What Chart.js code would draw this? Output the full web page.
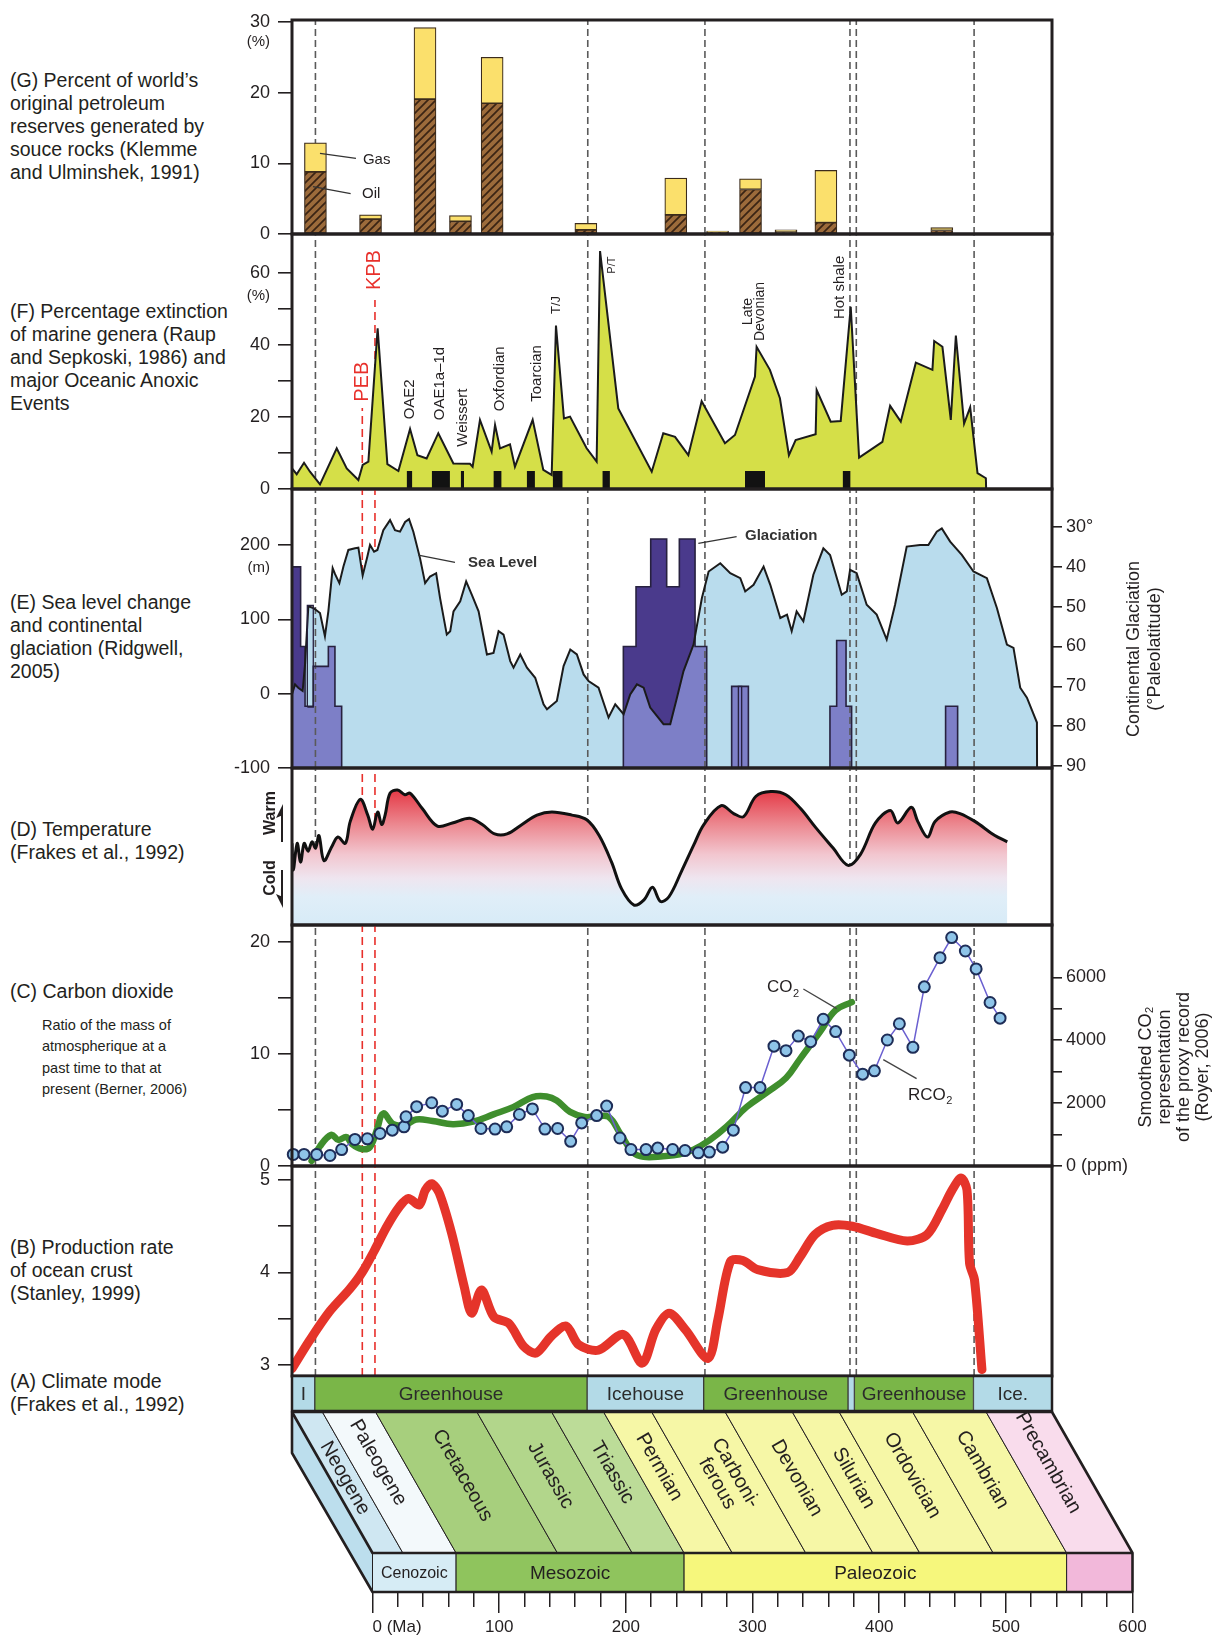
<!DOCTYPE html>
<html>
<head>
<meta charset="utf-8">
<title>Geological record panels</title>
<script src="https://cdn.jsdelivr.net/npm/chart.js@4.4.1/dist/chart.umd.min.js"></script>
<style>
html,body{margin:0;padding:0;background:#fff;}
#wrap{position:relative;width:1215px;height:1640px;overflow:hidden;background:#fff;}
#wrap canvas{position:absolute;left:0;}
.desc{position:absolute;left:10px;font-family:"Liberation Sans",Arial,Helvetica,sans-serif;font-size:19.5px;line-height:23px;color:#231f20;white-space:nowrap;}
.desc.small{left:42px;font-size:14.5px;line-height:21.3px;}
</style>
</head>
<body>
<div id="wrap">
<div class="desc" style="top:69px">(G) Percent of world’s<br>original petroleum<br>reserves generated by<br>souce rocks (Klemme<br>and Ulminshek, 1991)</div>
<div class="desc" style="top:300px">(F) Percentage extinction<br>of marine genera (Raup<br>and Sepkoski, 1986) and<br>major Oceanic Anoxic<br>Events</div>
<div class="desc" style="top:591px">(E) Sea level change<br>and continental<br>glaciation (Ridgwell,<br>2005)</div>
<div class="desc" style="top:818px">(D) Temperature<br>(Frakes et al., 1992)</div>
<div class="desc" style="top:980px">(C) Carbon dioxide</div>
<div class="desc small" style="top:1015px">Ratio of the mass of<br>atmospherique at a<br>past time to that at<br>present (Berner, 2006)</div>
<div class="desc" style="top:1236px">(B) Production rate<br>of ocean crust<br>(Stanley, 1999)</div>
<div class="desc" style="top:1370px">(A) Climate mode<br>(Frakes et al., 1992)</div>
</div>
<script>
// ===================== DATA =====================
// (G) petroleum reserves (% of world total), stacked oil + gas
const petroAge = [18.5, 62, 105, 133, 158, 232, 303, 336, 362, 390, 421.5, 513];
const oilPct   = [8.8, 2.1, 19.1, 1.8, 18.5, 0.6, 2.7, 0.35, 6.3, 0.3, 1.6, 0.5];
const gasPct   = [4.1, 0.6, 10.1, 0.8, 6.5, 0.9, 5.2, 0.05, 1.5, 0.3, 7.4, 0.4];

// (F) extinction of marine genera (%)
const extAge = [0, 3.7, 9.5, 14.2, 22.1, 35.3, 43.2, 52.4, 55.8, 60.3, 67.6, 75.3, 84, 93.2, 99, 106.3, 115.5, 127.4, 140.5, 142.6, 148.4, 157.6, 160.3, 164.2, 172.1, 176, 190, 198.4, 205, 208.4, 214.7, 219.5, 232.6, 240.5, 243.2, 257.6, 284, 293.1, 302.4, 312.9, 323.4, 341.8, 349.7, 365.5, 366.8, 377.3, 385.2, 392.3, 397.6, 413.4, 414.2, 425.3, 433.2, 441.1, 447.7, 466.1, 472.2, 480.6, 492.5, 505.6, 507, 513.5, 520.1, 524.1, 530.6, 535.4, 541.2, 547.8, 548];
const extVal = [5.7, 4.1, 7.3, 4.8, 1.3, 11.3, 5.7, 2.5, 6.7, 7.6, 44.6, 6.9, 5, 16.7, 9.4, 8.5, 15.5, 7.1, 7.0, 6.2, 19.2, 10.4, 17.8, 11.3, 12.4, 6.2, 19.2, 5.3, 3.9, 45.4, 19.6, 20.1, 11.3, 7.6, 66.1, 22.4, 4.8, 15.5, 14.5, 9.4, 24.4, 12.7, 15, 31.2, 39.5, 33.1, 25.2, 9.4, 13.6, 15.2, 27.5, 18.7, 18.9, 50.6, 8.7, 13.1, 23.1, 18.7, 35.1, 33.1, 41.1, 39.5, 19.2, 42.6, 18.2, 22.7, 4.4, 3.0, 0];
// Oceanic anoxic events (black boxes)
const oaeStart = [90.5, 110.3, 133.2, 159, 185.3, 205.8, 245, 357.6, 434.7];
const oaeEnd   = [95, 124.7, 135.8, 165.5, 191.8, 213.7, 251, 373.4, 441];
const oaeHeight = 5;

// (E) sea level (m)
const seaAge = [0, 2.4, 4.9, 8.4, 10.3, 12.9, 16.8, 22.1, 26, 28.7, 32.1, 34, 37.4, 40.6, 44.5, 49.8, 52.4, 55.8, 59.5, 61.6, 64.8, 67.4, 72.1, 77.4, 81.3, 85.3, 89.3, 92.4, 95.8, 101.1, 105.1, 109, 113.8, 116.9, 122.2, 124.9, 127.5, 132.8, 137.5, 142, 147.3, 153.9, 159.1, 163.1, 167, 172.3, 174.9, 180.2, 185.5, 192, 198.6, 201.3, 209.1, 214.4, 219.7, 224.9, 230.2, 234.1, 242, 249.9, 255.2, 261.8, 267, 272.3, 277.6, 282.8, 293.3, 298.6, 303.9, 309.1, 317, 323.6, 328.9, 338.1, 346, 353.9, 357.8, 364.4, 372.3, 377.6, 385.5, 390.8, 394.5, 398.4, 403.7, 411.6, 419.5, 424.8, 434, 438, 440.6, 445.8, 453.7, 461.6, 469.5, 476.1, 485.3, 495.8, 502.4, 509, 513, 519.6, 528.8, 538, 548.6, 556.5, 564.4, 569.6, 574.9, 580.2, 588.1, 588.2];
const seaVal = [-0.9, 12.5, 8, 3.6, 39.3, 117.4, 115.2, 108.5, 77.2, 110.7, 168.8, 160.7, 148.7, 171, 193.3, 195.5, 196.4, 158.9, 184.4, 200, 191, 193.3, 220, 233.5, 220, 218, 231, 234.8, 217.9, 182, 148.7, 157.6, 162, 128.6, 79.5, 84, 110.7, 124.1, 150.9, 133, 110.7, 52.7, 54.9, 84, 79.5, 43.8, 35, 52.7, 35, 21.4, -14.3, -21, -9.8, 37, 59.4, 52.7, 25.9, 17, 8, -32, -14.3, -27.7, -0.9, 12.5, 8, -18.8, -41, -41, -5.4, 30.4, 66, 128.6, 164.3, 175.4, 162, 155.4, 137.5, 146.4, 171, 146.4, 101.8, 106.3, 84, 110.7, 97.3, 160, 195.5, 186.6, 133, 137.5, 166.5, 162, 119.6, 106.3, 72.8, 119.6, 197.8, 200, 200, 217.9, 222.3, 204.5, 186.6, 164.3, 155.4, 115.2, 66, 61.6, 8, -5.4, -38.8, -100];
// continental glaciation: extent in paleolatitude (deg) for age intervals
const glacStart = [0, 6.8, 10.3, 16.8, 28.7, 33.9, 261.6, 271.6, 283.2, 295.8, 305.8, 318.2, 347.1, 424.7, 430.0, 437.4, 516.0];
const glacEnd   = [6.8, 10.3, 16.8, 28.7, 33.9, 39.2, 271.6, 283.2, 295.8, 305.8, 318.2, 327.4, 360.3, 430.0, 437.4, 441.8, 525.5];
const glacLat   = [40, 60, 75, 65, 60, 75, 60, 45, 33, 45, 33, 60, 70, 75, 58.5, 75, 75];
// narrow ephemeral glaciation strips
const stripStart  = [12.1, 352.4];
const stripEnd    = [16.8, 355.0];
const stripTop    = [49.7, 70];
const stripBottom = [75.2, 90.5];

// (D) temperature index (relative, cold 0 -> warm 10)
const tempAge = [0, 1.0, 4.1, 6.8, 9.6, 12.7, 15.8, 18.6, 21.3, 25.2, 31.5, 36.2, 42.1, 46, 53.9, 59.8, 63.7, 67.6, 70.8, 73.5, 77.4, 83.3, 89.2, 93.2, 103, 114.8, 126.6, 140.3, 150.2, 160, 169.8, 181.6, 193.4, 205.2, 220.9, 232.7, 242.5, 252.3, 260.2, 270, 277.9, 284.6, 290.9, 297.6, 307.4, 317.2, 325.1, 338.8, 348.7, 356.5, 366.3, 378.1, 389.9, 401.7, 413.5, 427.2, 439, 448.8, 460.6, 472.4, 478.3, 488.9, 494, 501.8, 507.7, 519.5, 527.4, 539.1, 554.9, 564.7];
const tempVal = [5.2, 3.5, 5.2, 4.0, 5.2, 4.7, 5.3, 4.9, 5.7, 4.1, 5.0, 5.6, 5.2, 6.6, 8.0, 7.0, 6.1, 7.2, 6.4, 7.0, 8.4, 8.6, 8.3, 8.4, 7.4, 6.3, 6.5, 6.8, 6.4, 5.8, 5.8, 6.4, 7.0, 7.2, 7.0, 6.7, 5.7, 4.0, 2.3, 1.27, 1.6, 2.4, 1.5, 1.8, 3.4, 5.1, 6.4, 7.6, 7.1, 6.9, 8.2, 8.5, 8.3, 7.4, 6.2, 4.9, 3.8, 4.5, 6.5, 7.3, 6.5, 7.5, 6.6, 5.6, 6.6, 7.2, 7.1, 6.6, 5.7, 5.3];

// (C) RCO2 ratio (Berner) and smoothed CO2 ppm (Royer)
const rco2Age = [1, 9.5, 19.5, 30, 39.2, 49.7, 59.5, 69.5, 79.2, 88.4, 90, 98.4, 110.3, 118.7, 130, 139.2, 149.2, 160.3, 169.5, 179.5, 189.8, 199.7, 209.7, 220, 228.7, 240.5, 248.4, 258.9, 267.6, 279.5, 288.7, 300.5, 310.3, 320.8, 329.5, 340, 348.4, 358.1, 369.5, 380.5, 390, 399.7, 409.5, 419.4, 429.2, 440, 450.5, 459.8, 470, 479.5, 490.2, 499.2, 511.6, 520.8, 531.6, 540.1, 551.1, 559];
const rco2Val = [1.03, 1.03, 1.03, 0.94, 1.47, 2.37, 2.43, 2.9, 3.2, 3.5, 4.4, 5.3, 5.65, 4.9, 5.5, 4.5, 3.35, 3.3, 3.5, 4.6, 5.1, 3.3, 3.35, 2.2, 3.85, 4.5, 5.35, 2.5, 1.47, 1.47, 1.6, 1.47, 1.38, 1.18, 1.24, 1.68, 3.2, 7.0, 7.0, 10.7, 10.3, 11.6, 11.1, 13.1, 12.0, 9.9, 8.2, 8.5, 11.25, 12.7, 10.6, 16.0, 18.6, 20.4, 19.2, 17.6, 14.6, 13.2];
const co2Age = [15.5, 22, 31, 36.5, 43, 47, 55, 61.5, 67, 72, 80, 89, 98, 111, 127, 143, 159, 175, 190, 201, 209, 219.5, 231, 240.5, 250, 259, 269.5, 277.5, 293, 306, 317, 330, 343, 359, 375, 390, 401, 417, 429, 442];
const co2Ppm = [160, 625, 990, 830, 920, 710, 540, 600, 1150, 1670, 1330, 1300, 1480, 1430, 1330, 1410, 1640, 1880, 2190, 2210, 2080, 1720, 1560, 1580, 1560, 1040, 420, 290, 310, 370, 520, 830, 1250, 1880, 2340, 2800, 3400, 4270, 4950, 5210];

// (B) ocean crust production rate
const crustAge = [0, 14.1, 29.8, 45.5, 55.3, 65.1, 75, 84.8, 91.9, 100.5, 105.2, 110.3, 116.2, 126.1, 135.9, 141.8, 149.6, 159.4, 171.2, 183, 192.8, 204.6, 216.4, 226.2, 241.9, 261.6, 276.5, 287.1, 297.7, 310.7, 328.4, 336.2, 346.1, 355.9, 367.7, 391.3, 401.1, 412.9, 426.7, 442.4, 462.1, 485.7, 501.4, 513.2, 521.1, 528.2, 532.9, 534.9, 538.8, 544.7];
const crustVal = [2.96, 3.27, 3.58, 3.82, 4.0, 4.24, 4.5, 4.71, 4.8, 4.73, 4.89, 4.96, 4.86, 4.42, 3.85, 3.56, 3.81, 3.52, 3.45, 3.2, 3.13, 3.31, 3.42, 3.22, 3.16, 3.33, 3.02, 3.38, 3.56, 3.38, 3.07, 3.49, 4.12, 4.13, 4.03, 4.0, 4.17, 4.41, 4.51, 4.5, 4.42, 4.34, 4.41, 4.68, 4.89, 5.02, 4.89, 4.1, 3.92, 2.95];

// (A) climate mode
const climStart = [0, 18, 233, 325, 439, 444, 538];
const climEnd   = [18, 233, 325, 439, 444, 538, 600];
const climLabel = ['I', 'Greenhouse', 'Icehouse', 'Greenhouse', '', 'Greenhouse', 'Ice.'];
const climKind  = ['ice', 'green', 'ice', 'green', 'ice', 'green', 'ice'];

// geologic time scale
const periodName  = ['Neogene', 'Paleogene', 'Cretaceous', 'Jurassic', 'Triassic', 'Permian', 'Carboni-|ferous', 'Devonian', 'Silurian', 'Ordovician', 'Cambrian', 'Precambrian'];
const periodStart = [0, 24, 66, 146, 205, 246, 284, 342, 395, 432, 490, 548];
const periodEnd   = [24, 66, 146, 205, 246, 284, 342, 395, 432, 490, 548, 600];
const eraName  = ['Cenozoic', 'Mesozoic', 'Paleozoic', ''];
const eraStart = [0, 66, 246, 548];
const eraEnd   = [66, 246, 548, 600];

// boundaries / events (Ma)
const boundaryAges = [18.5, 233.5, 326, 440.5, 445.5, 538.5];
const eventAges = [55.5, 65.5];
const eventNames = ['PEB', 'KPB'];
const fRedTop = [22.5, 52.5];

// tick values and labels
const gTicks = [0, 10, 20, 30];            const gTickLabels = ['0', '10', '20', '30'];
const fTicks = [0, 10, 20, 30, 40, 50, 60]; const fTickLabels = ['0', '', '20', '', '40', '', '60'];
const eTicks = [-100, 0, 100, 200];        const eTickLabels = ['-100', '0', '100', '200'];
const e2Ticks = [30, 40, 50, 60, 70, 80, 90]; const e2TickLabels = ['30°', '40', '50', '60', '70', '80', '90'];
const cTicks = [0, 5, 10, 15, 20];         const cTickLabels = ['0', '', '10', '', '20'];
const c2Ticks = [0, 1000, 2000, 3000, 4000, 5000, 6000]; const c2TickLabels = ['0 (ppm)', '', '2000', '', '4000', '', '6000'];
const bTicks = [3, 3.5, 4, 4.5, 5];        const bTickLabels = ['3', '', '4', '', '5'];
const axisTicks = [0, 20, 40, 60, 80, 100, 120, 140, 160, 180, 200, 220, 240, 260, 280, 300, 320, 340, 360, 380, 400, 420, 440, 460, 480, 500, 520, 540, 560, 580, 600, 601];
const axisTickLabels = ['0 (Ma)', '', '', '', '', '100', '', '', '', '', '200', '', '', '', '', '300', '', '', '', '', '400', '', '', '', '', '500', '', '', '', '', '600', ''];

// axis ranges
const G_MAX = 30.28, F_MAX = 70.83;
const E_MIN = -100, E_MAX = 275.3, E2_MIN = 20.46, E2_MAX = 90.5;
const C_MAX = 21.52, C2_MAX = 7663;
const B_MIN = 2.881, B_MAX = 5.151;

// annotation anchors (data units)
const fNotes = [
  {t: 'PEB', a: 55.3, v: 29.8, size: 20, color: '#e8302b'},
  {t: 'KPB', a: 65.4, v: 60.8, size: 20, color: '#e8302b'},
  {t: 'OAE2', a: 93.2, v: 24.9, size: 15},
  {t: 'OAE1a–1d', a: 116.8, v: 29.3, size: 15},
  {t: 'Weissert', a: 134.7, v: 19.8, size: 15},
  {t: 'Oxfordian', a: 164.2, v: 30.6, size: 15},
  {t: 'Toarcian', a: 193.2, v: 32.1, size: 15},
  {t: 'T/J', a: 208.9, v: 51.1, size: 13},
  {t: 'P/T', a: 252.4, v: 62.2, size: 11},
  {t: 'Late', a: 360.2, v: 49.3, size: 14},
  {t: 'Devonian', a: 369.8, v: 49.3, size: 14},
  {t: 'Hot shale', a: 432.6, v: 56, size: 15}
];

// ===================== LAYOUT / STYLE =====================
const W = 1215, PL = 292, PR = 1052, RP = W - PR, PAD = 20;
const FONT = '"Liberation Sans", Arial, Helvetica, sans-serif';
const INK = '#231f20';
const GRAY = {color: '#5a5a5a', dash: [7, 4], width: 1.6};
const RED = {color: '#e8302b', dash: [8, 5], width: 1.6};
const periodFill = ['#cfe7f2', '#f3f9fb', '#a7cf7d', '#b2d68b', '#bcdc98', '#f6f7a6', '#f6f7a6', '#f6f7a6', '#f6f7a6', '#f6f7a6', '#f6f7a6', '#f9dcec'];
const periodLabelFrac = [0.47, 0.36, 0.45, 0.45, 0.43, 0.39, 0.47, 0.47, 0.47, 0.45, 0.41, 0.36];
const eraFill = ['#d6ecf5', '#8fc45d', '#f6f77c', '#f2b8da'];
const eraFont = [16, 19, 19, 16];

Chart.defaults.font.family = FONT;
Chart.defaults.color = INK;
Chart.defaults.animation = false;
Chart.defaults.events = [];
Chart.defaults.plugins.legend.display = false;
Chart.defaults.plugins.tooltip.enabled = false;
Chart.defaults.elements.point.radius = 0;
Chart.defaults.elements.line.tension = 0;

const wrap = document.getElementById('wrap');
function mkCanvas(top, bottom, padTop, padBottom) {
  padTop = (padTop === undefined) ? PAD : padTop;
  padBottom = (padBottom === undefined) ? PAD : padBottom;
  const c = document.createElement('canvas');
  const h = Math.round(bottom - top + padTop + padBottom);
  c.width = W; c.height = h;
  c.style.top = (top - padTop) + 'px';
  c.style.width = W + 'px'; c.style.height = h + 'px';
  wrap.appendChild(c);
  return c;
}
function upperX() { return {type: 'linear', min: 0, max: 600, display: false, offset: false, grid: {display: false}}; }
function yAxis(side, min, max, vals, labels, reverse) {
  const left = side === 'left';
  return {
    type: 'linear', position: side, min: min, max: max, reverse: !!reverse, bounds: 'data',
    afterFit: s => { s.width = left ? PL : RP; },
    afterBuildTicks: s => { s.ticks = vals.map(v => ({value: v})); },
    ticks: {autoSkip: false, padding: left ? 8 : 4, font: {size: 18}, color: INK, callback: (v, i) => labels[i]},
    grid: {drawOnChartArea: false, drawTicks: true, tickLength: left ? 14 : 10, color: INK, lineWidth: 1.6},
    border: {display: false}
  };
}
function opts(padding, scales, extra) {
  return Object.assign({
    responsive: false, devicePixelRatio: 1, animation: false,
    layout: {padding: Object.assign({top: PAD, bottom: PAD, left: 0, right: 0}, padding)},
    scales: scales,
    plugins: {legend: {display: false}, tooltip: {enabled: false}}
  }, extra || {});
}
function vline(a, y0, y1, st, order, axis, extra) {
  return Object.assign({type: 'line', data: [{x: a, y: y0}, {x: a, y: y1}], borderColor: st.color, borderDash: st.dash,
    borderWidth: st.width, pointRadius: 0, fill: false, order: order, yAxisID: axis || 'y'}, extra || {});
}
function vlines(ages, y0, y1, st, order, axis, extra) { return ages.map(a => vline(a, y0, y1, st, order, axis, extra)); }
function pts(xs, ys) { return xs.map((x, i) => ({x: x, y: ys[i]})); }

function drawText(ctx, s, x, y, o) {
  o = o || {};
  ctx.save();
  ctx.font = (o.weight || 'normal') + ' ' + (o.size || 16) + 'px ' + FONT;
  ctx.fillStyle = o.color || INK;
  ctx.textAlign = o.align || 'left';
  ctx.textBaseline = o.base || 'middle';
  ctx.translate(x, y);
  if (o.rot) ctx.rotate(o.rot);
  ctx.fillText(s, 0, 0);
  ctx.restore();
}
function drawSub(ctx, main, sub, x, y, size, color) {
  ctx.save();
  ctx.font = size + 'px ' + FONT; ctx.fillStyle = color || INK; ctx.textBaseline = 'alphabetic'; ctx.textAlign = 'left';
  ctx.fillText(main, x, y);
  const w = ctx.measureText(main).width;
  ctx.font = Math.round(size * 0.62) + 'px ' + FONT;
  ctx.fillText(sub, x + w + 0.5, y + size * 0.25);
  ctx.restore();
}
function drawLine(ctx, x1, y1, x2, y2, color, w) {
  ctx.save(); ctx.strokeStyle = color || '#333'; ctx.lineWidth = w || 1.2; ctx.setLineDash([]);
  ctx.beginPath(); ctx.moveTo(x1, y1); ctx.lineTo(x2, y2); ctx.stroke(); ctx.restore();
}
function unitLabel(ch, text, val) {
  drawText(ch.ctx, text, PL - 22, ch.scales.y.getPixelForValue(val), {size: 15, align: 'right'});
}
function rightTitle(ctx, lines, xs, yc, size) {
  lines.forEach((l, i) => drawText(ctx, l, xs[i], yc, {size: size || 18, align: 'center', rot: -Math.PI / 2}));
}

const framePlugin = {
  id: 'frame',
  afterDraw(ch) {
    const ctx = ch.ctx, a = ch.chartArea;
    ctx.save(); ctx.globalCompositeOperation = 'source-over'; ctx.setLineDash([]);
    ctx.strokeStyle = INK; ctx.lineWidth = 3;
    ctx.strokeRect(a.left, a.top, a.right - a.left, a.bottom - a.top);
    ctx.restore();
  }
};
// per-dataset compositing (used to layer sea level and glaciation)
function applyNext(ch, idx) {
  const metas = ch.getSortedVisibleDatasetMetas();
  let k = (idx < 0) ? metas.length - 1 : metas.findIndex(m => m.index === idx) - 1;
  if (k >= 0) {
    const ds = ch.data.datasets[metas[k].index];
    ch.ctx.globalCompositeOperation = ds.composite || 'source-over';
  }
}
const compositePlugin = {
  id: 'composite',
  beforeDatasetsDraw(ch) { applyNext(ch, -1); },
  afterDatasetDraw(ch, args) { ch.ctx.globalCompositeOperation = 'source-over'; applyNext(ch, args.index); },
  afterDatasetsDraw(ch) { ch.ctx.globalCompositeOperation = 'source-over'; }
};

function makeOilPattern() {
  const c = document.createElement('canvas'); c.width = 8; c.height = 8;
  const g = c.getContext('2d');
  g.fillStyle = '#9c6b3b'; g.fillRect(0, 0, 8, 8);
  g.strokeStyle = '#3a2414'; g.lineWidth = 1.7;
  g.beginPath();
  g.moveTo(-2, 10); g.lineTo(10, -2);
  g.moveTo(-2, 2); g.lineTo(2, -2);
  g.moveTo(6, 10); g.lineTo(10, 6);
  g.stroke();
  return g.createPattern(c, 'repeat');
}

// ===================== (G) petroleum =====================
const gAnn = {
  id: 'gAnn',
  afterDraw(ch) {
    const ctx = ch.ctx, X = v => ch.scales.x.getPixelForValue(v), Y = v => ch.scales.y.getPixelForValue(v);
    unitLabel(ch, '(%)', 27.2);
    drawLine(ctx, X(22.1), Y(11.4), X(50.5), Y(10.7), '#333', 1.3);
    drawLine(ctx, X(16.6), Y(6.7), X(46.3), Y(5.7), '#333', 1.3);
    drawText(ctx, 'Gas', X(56), Y(10.5), {size: 15});
    drawText(ctx, 'Oil', X(55.3), Y(5.7), {size: 15});
  }
};
new Chart(mkCanvas(20, 234), {
  type: 'bar',
  data: {datasets: [
    {type: 'bar', data: pts(petroAge, oilPct), backgroundColor: makeOilPattern(), borderColor: '#3b2b1c', borderWidth: 1.2,
      borderSkipped: false, barThickness: 22, grouped: false, order: 2},
    {type: 'bar', data: petroAge.map((a, i) => ({x: a, y: [oilPct[i], oilPct[i] + gasPct[i]]})), backgroundColor: '#fbe06c',
      borderColor: '#3b2b1c', borderWidth: 1.2, borderSkipped: false, barThickness: 22, grouped: false, order: 1},
    ...vlines(boundaryAges, 0, G_MAX, GRAY, 5)
  ]},
  options: opts({right: RP}, {x: upperX(), y: yAxis('left', 0, G_MAX, gTicks, gTickLabels)}),
  plugins: [framePlugin, gAnn]
});

// ===================== (F) extinction =====================
function boxPoints(starts, ends, h) {
  const p = [];
  starts.forEach((s, i) => { const e = ends[i]; p.push({x: s, y: 0}, {x: s, y: h}, {x: e, y: h}, {x: e, y: 0}, {x: e + 0.05, y: null}); });
  return p;
}
const fAnn = {
  id: 'fAnn',
  afterDraw(ch) {
    const ctx = ch.ctx, X = v => ch.scales.x.getPixelForValue(v), Y = v => ch.scales.y.getPixelForValue(v);
    unitLabel(ch, '(%)', 53.6);
    fNotes.forEach(n => drawText(ctx, n.t, X(n.a), Y(n.v), {size: n.size, color: n.color || INK, align: 'center', rot: -Math.PI / 2}));
  }
};
new Chart(mkCanvas(234, 489), {
  type: 'line',
  data: {datasets: [
    ...vlines(boundaryAges, 0, F_MAX, GRAY, 6),
    ...eventAges.map((a, i) => vline(a, 0, fRedTop[i], RED, 5)),
    {data: pts(extAge, extVal), fill: 'origin', backgroundColor: '#d5df48', borderColor: '#1b1b1b', borderWidth: 2, order: 2},
    {data: boxPoints(oaeStart, oaeEnd, oaeHeight), fill: 'origin', backgroundColor: '#121212', borderWidth: 0, spanGaps: false, order: 1}
  ]},
  options: opts({right: RP}, {x: upperX(), y: yAxis('left', 0, F_MAX, fTicks, fTickLabels)}),
  plugins: [framePlugin, fAnn]
});

// ===================== (E) sea level & glaciation =====================
function glacPoints() {
  const p = [];
  for (let i = 0; i < glacStart.length; i++) {
    const s = glacStart[i], e = glacEnd[i];
    const newBlock = i === 0 || Math.abs(s - glacEnd[i - 1]) > 0.01;
    if (newBlock) {
      if (i > 0) { p.push({x: glacEnd[i - 1], y: E2_MAX}); p.push({x: (glacEnd[i - 1] + s) / 2, y: null}); }
      p.push({x: s, y: E2_MAX});
    }
    p.push({x: s, y: glacLat[i]}, {x: e, y: glacLat[i]});
  }
  p.push({x: glacEnd[glacEnd.length - 1], y: E2_MAX});
  return p;
}
const seaPts = pts(seaAge, seaVal);
const glacPts = glacPoints();
const stripSets = stripStart.map((s, i) => ({
  yAxisID: 'y2', data: [{x: s, y: stripBottom[i]}, {x: s, y: stripTop[i]}, {x: stripEnd[i], y: stripTop[i]}, {x: stripEnd[i], y: stripBottom[i]}, {x: s, y: stripBottom[i]}],
  fill: {value: stripBottom[i]}, backgroundColor: i === 0 ? '#a9c4db' : '#6b6d92', borderColor: '#27213f', borderWidth: 1.3, order: 3
}));
const eAnn = {
  id: 'eAnn',
  afterDraw(ch) {
    const ctx = ch.ctx, a = ch.chartArea, X = v => ch.scales.x.getPixelForValue(v), Y = v => ch.scales.y.getPixelForValue(v);
    unitLabel(ch, '(m)', 169);
    drawLine(ctx, X(99.7), Y(186.5), X(128.7), Y(176.7), '#333', 1.3);
    drawText(ctx, 'Sea Level', X(139), Y(175.8), {size: 15, weight: 'bold', color: '#333'});
    drawLine(ctx, X(320.8), Y(202.3), X(351), Y(211.2), '#333', 1.3);
    drawText(ctx, 'Glaciation', X(357.6), Y(212.5), {size: 15, weight: 'bold', color: '#333'});
    rightTitle(ctx, ['Continental Glaciation', '(°Paleolatitude)'], [1134, 1155], a.top + 160, 18);
  }
};
new Chart(mkCanvas(489, 768), {
  type: 'line',
  data: {datasets: [
    {yAxisID: 'y2', data: glacPts, fill: {value: E2_MAX}, backgroundColor: '#7d7fc7', borderWidth: 0, spanGaps: false, order: 10},
    {yAxisID: 'y', data: seaPts, fill: 'end', backgroundColor: '#4a3a8c', borderWidth: 0, composite: 'source-atop', order: 9},
    ...vlines(boundaryAges, E_MIN, E_MAX, GRAY, 8),
    {yAxisID: 'y', data: seaPts, fill: 'start', backgroundColor: '#b9dced', borderWidth: 0, composite: 'destination-over', order: 7},
    ...vlines(eventAges, E_MIN, E_MAX, RED, 6, 'y', {composite: 'destination-over'}),
    {yAxisID: 'y2', data: glacPts, fill: false, borderColor: '#27213f', borderWidth: 1.6, spanGaps: false, order: 5},
    {yAxisID: 'y', data: seaPts, fill: false, borderColor: '#1b1b1b', borderWidth: 2, order: 4},
    ...stripSets
  ]},
  options: opts({}, {
    x: upperX(),
    y: yAxis('left', E_MIN, E_MAX, eTicks, eTickLabels),
    y2: yAxis('right', E2_MIN, E2_MAX, e2Ticks, e2TickLabels, true)
  }),
  plugins: [compositePlugin, framePlugin, eAnn]
});

// ===================== (D) temperature =====================
function tempGradient(c) {
  const ch = c.chart, a = ch.chartArea;
  if (!a) return 'rgba(0,0,0,0)';
  const g = ch.ctx.createLinearGradient(0, a.top, 0, a.bottom);
  g.addColorStop(0, '#e2202f');
  g.addColorStop(0.16, '#e5404c');
  g.addColorStop(0.36, '#ec8890');
  g.addColorStop(0.55, '#f2c6cf');
  g.addColorStop(0.7, '#efe5ef');
  g.addColorStop(0.82, '#e0eef8');
  g.addColorStop(1, '#d7ebf7');
  return g;
}
const dAnn = {
  id: 'dAnn',
  afterDraw(ch) {
    const ctx = ch.ctx, a = ch.chartArea;
    drawText(ctx, 'Warm', PL - 21, a.top + 45, {size: 16, weight: 'bold', align: 'center', rot: -Math.PI / 2});
    drawText(ctx, 'Cold', PL - 21, a.top + 110, {size: 16, weight: 'bold', align: 'center', rot: -Math.PI / 2});
    ctx.save(); ctx.strokeStyle = INK; ctx.fillStyle = INK; ctx.lineWidth = 2;
    const ax = PL - 10;
    ctx.beginPath(); ctx.moveTo(ax, a.top + 74); ctx.lineTo(ax, a.top + 40); ctx.stroke();
    ctx.beginPath(); ctx.moveTo(ax + 1, a.top + 36); ctx.lineTo(ax - 6, a.top + 50); ctx.lineTo(ax + 1, a.top + 47); ctx.closePath(); ctx.fill();
    ctx.beginPath(); ctx.moveTo(ax, a.top + 102); ctx.lineTo(ax, a.top + 136); ctx.stroke();
    ctx.beginPath(); ctx.moveTo(ax + 1, a.top + 140); ctx.lineTo(ax - 6, a.top + 126); ctx.lineTo(ax + 1, a.top + 129); ctx.closePath(); ctx.fill();
    ctx.restore();
  }
};
new Chart(mkCanvas(768, 925), {
  type: 'line',
  data: {datasets: [
    ...vlines(boundaryAges, 0, 10, GRAY, 5),
    ...vlines(eventAges, 0, 10, RED, 4),
    {data: pts(tempAge, tempVal), fill: 'start', backgroundColor: tempGradient, borderColor: '#111', borderWidth: 3, tension: 0.35, order: 1}
  ]},
  options: opts({left: PL, right: RP}, {x: upperX(), y: {type: 'linear', min: 0, max: 10, display: false}}),
  plugins: [framePlugin, dAnn]
});

// ===================== (C) carbon dioxide =====================
const cAnn = {
  id: 'cAnn',
  afterDraw(ch) {
    const ctx = ch.ctx, a = ch.chartArea, X = v => ch.scales.x.getPixelForValue(v), Y = v => ch.scales.y.getPixelForValue(v);
    drawSub(ctx, 'CO', '2', X(375), Y(15.5), 17);
    drawLine(ctx, X(403.7), Y(15.8), X(430), Y(14.05), '#444', 1.3);
    drawSub(ctx, 'RCO', '2', X(486.3), Y(5.9), 17);
    drawLine(ctx, X(466.8), Y(9.5), X(493.1), Y(7.8), '#444', 1.3);
    rightTitle(ctx, ['Smoothed CO₂', 'representation', 'of the proxy record', '(Royer, 2006)'], [1146, 1165, 1184, 1203], a.top + 142, 18);
  }
};
new Chart(mkCanvas(925, 1166), {
  type: 'line',
  data: {datasets: [
    ...vlines(boundaryAges, 0, C_MAX, GRAY, 6),
    ...vlines(eventAges, 0, C_MAX, RED, 5),
    {yAxisID: 'y2', data: pts(co2Age, co2Ppm), fill: false, borderColor: '#3f8e2d', borderWidth: 6.5, tension: 0.4,
      borderCapStyle: 'round', borderJoinStyle: 'round', order: 2},
    {yAxisID: 'y', data: pts(rco2Age, rco2Val), fill: false, borderColor: '#6a5fd0', borderWidth: 1.5, pointRadius: 5.5,
      pointBackgroundColor: '#8ec4e8', pointBorderColor: '#1e2d57', pointBorderWidth: 2, clip: 8, order: 1}
  ]},
  options: opts({}, {
    x: upperX(),
    y: yAxis('left', 0, C_MAX, cTicks, cTickLabels),
    y2: yAxis('right', 0, C2_MAX, c2Ticks, c2TickLabels)
  }),
  plugins: [framePlugin, cAnn]
});

// ===================== (B) ocean crust =====================
new Chart(mkCanvas(1166, 1376), {
  type: 'line',
  data: {datasets: [
    ...vlines(boundaryAges, B_MIN, B_MAX, GRAY, 6),
    ...vlines(eventAges, B_MIN, B_MAX, RED, 5),
    {data: pts(crustAge, crustVal), fill: false, borderColor: '#e5342a', borderWidth: 9, tension: 0.3,
      borderCapStyle: 'round', borderJoinStyle: 'round', order: 1}
  ]},
  options: opts({right: RP}, {x: upperX(), y: yAxis('left', B_MIN, B_MAX, bTicks, bTickLabels)}),
  plugins: [framePlugin]
});

// ===================== (A) climate mode band =====================
const climAnn = {
  id: 'climAnn',
  afterDraw(ch) {
    const meta = ch.getDatasetMeta(0);
    meta.data.forEach((el, i) => {
      if (!climLabel[i]) return;
      drawText(ch.ctx, climLabel[i], (el.x + el.base) / 2, el.y + 1, {size: 19, align: 'center', color: '#2b2b2b'});
    });
    const a = ch.chartArea, ctx = ch.ctx;
    ctx.save(); ctx.strokeStyle = INK; ctx.lineWidth = 2.5; ctx.strokeRect(a.left, a.top, a.right - a.left, a.bottom - a.top); ctx.restore();
  }
};
new Chart(mkCanvas(1376, 1411, 5, 5), {
  type: 'bar',
  data: {labels: ['mode'], datasets: [{
    data: climStart.map((s, i) => ({x: [s, climEnd[i]], y: 'mode'})),
    backgroundColor: climKind.map(k => k === 'green' ? '#7ab648' : '#b3dae7'),
    borderColor: '#3a3a3a', borderWidth: 1, borderSkipped: false, barPercentage: 1, categoryPercentage: 1
  }]},
  options: opts({top: 5, bottom: 5, left: PL, right: RP}, {
    x: {type: 'linear', min: 0, max: 600, display: false, offset: false},
    y: {type: 'category', display: false, offset: true}
  }, {indexAxis: 'y'}),
  plugins: [climAnn]
});

// ===================== geologic time block + age axis =====================
const X0B = 372.5, RPB = W - 1132.5;
const blockPlugin = {
  id: 'block',
  afterDraw(ch) {
    const ctx = ch.ctx, xs = ch.scales.x, a = ch.chartArea;
    const xb = v => xs.getPixelForValue(v);
    const S = xb(0) - PL;
    const FB = a.top - 1, B = FB - 39, T = B - 141;
    function poly(p, fill, stroke, lw) {
      ctx.beginPath(); ctx.moveTo(p[0][0], p[0][1]);
      for (let i = 1; i < p.length; i++) ctx.lineTo(p[i][0], p[i][1]);
      ctx.closePath();
      if (fill) { ctx.fillStyle = fill; ctx.fill(); }
      if (stroke) { ctx.strokeStyle = stroke; ctx.lineWidth = lw; ctx.stroke(); }
    }
    ctx.save(); ctx.setLineDash([]); ctx.lineJoin = 'round';
    poly([[xb(0) - S, T], [xb(0), B], [xb(0), FB], [xb(0) - S, T + 41]], '#bcdeed', INK, 1);
    periodStart.forEach((s, i) => {
      const e = periodEnd[i];
      poly([[xb(s) - S, T], [xb(e) - S, T], [xb(e), B], [xb(s), B]], periodFill[i], INK, 1);
    });
    eraStart.forEach((s, i) => {
      const e = eraEnd[i];
      poly([[xb(s), B], [xb(e), B], [xb(e), FB], [xb(s), FB]], eraFill[i], INK, 1);
    });
    poly([[xb(0) - S, T], [xb(600) - S, T], [xb(600), B], [xb(600), FB], [xb(0), FB], [xb(0) - S, T + 41]], null, INK, 2.6);
    ctx.beginPath(); ctx.moveTo(xb(0) - S, T); ctx.lineTo(xb(0), B); ctx.lineTo(xb(600), B);
    ctx.strokeStyle = INK; ctx.lineWidth = 2.6; ctx.stroke();
    ctx.restore();
    const ang = Math.atan2(B - T, S);
    periodName.forEach((name, i) => {
      const yc = T + periodLabelFrac[i] * (B - T);
      const xc = (xb(periodStart[i]) + xb(periodEnd[i])) / 2 - S * (B - yc) / (B - T);
      const lines = name.split('|');
      ctx.save(); ctx.translate(xc, yc); ctx.rotate(ang);
      ctx.font = '20px ' + FONT; ctx.fillStyle = INK; ctx.textAlign = 'center'; ctx.textBaseline = 'middle';
      lines.forEach((l, k) => ctx.fillText(l, 0, (k - (lines.length - 1) / 2) * 21));
      ctx.restore();
    });
    eraName.forEach((n, i) => {
      if (!n) return;
      drawText(ctx, n, (xb(eraStart[i]) + xb(eraEnd[i])) / 2, (B + FB) / 2 + 1, {size: eraFont[i], align: 'center'});
    });
  }
};
new Chart(mkCanvas(1593, 1607, 188, 33), {
  type: 'line',
  data: {datasets: []},
  options: opts({top: 188, bottom: 0, left: X0B, right: RPB}, {
    x: {
      type: 'linear', min: 0, max: 600, position: 'bottom', offset: false, bounds: 'data',
      afterFit: s => { s.height = 33; },
      afterBuildTicks: s => { s.ticks = axisTicks.map(v => ({value: v})); },
      ticks: {autoSkip: false, maxRotation: 0, minRotation: 0, align: 'inner', padding: 4, font: {size: 17}, color: INK,
        callback: (v, i) => axisTickLabels[i]},
      grid: {drawOnChartArea: true, drawTicks: true, tickLength: 6, lineWidth: 1.5,
        color: c => (c.tick && c.tick.value <= 600) ? INK : 'rgba(0,0,0,0)',
        tickColor: c => (c.tick && c.tick.value % 100 === 0 && c.tick.value <= 600) ? INK : 'rgba(0,0,0,0)'},
      border: {display: false}
    },
    y: {type: 'linear', min: 0, max: 1, display: false}
  }),
  plugins: [blockPlugin]
});
</script>
</body>
</html>
